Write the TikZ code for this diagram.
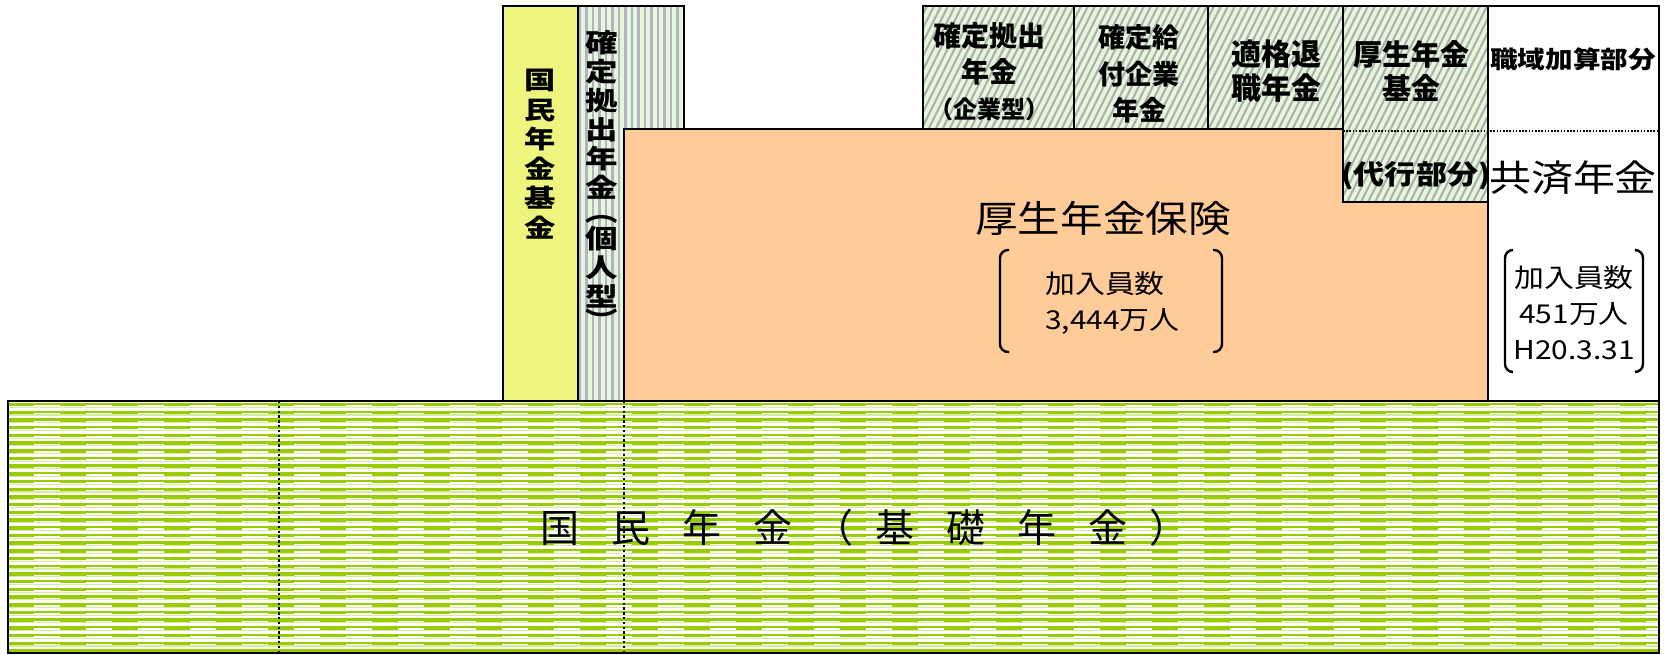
\documentclass[tikz,border=0pt]{standalone}
\usepackage{fontspec}
\newfontfamily\jpA{Noto Sans CJK JP}[FakeStretch=1.15]
\newfontfamily\jpV{Noto Sans CJK JP}[FakeStretch=1.25]
\newfontfamily\jpN{Noto Sans CJK JP}
\definecolor{kyellow}{HTML}{EEF57E}
\definecolor{korange}{HTML}{FFCC99}
\definecolor{kpale}{HTML}{E3F7DB}
\definecolor{khatch}{HTML}{ADADAD}
\definecolor{kvstripe}{HTML}{B4B2BC}
\definecolor{kgreen}{HTML}{99CC00}
\definecolor{klight}{HTML}{D6EDA0}
\begin{document}
\begin{tikzpicture}[x=1pt,y=-1pt,
  box/.style={draw=black,line width=2.6pt},
  lbl/.style={inner sep=0pt,align=center,text=black},
  hatchline/.style={draw=khatch,line width=2.0pt},
  vstripe/.style={draw=kvstripe,line width=2.3pt},
  gline/.style={draw=kgreen,line width=2.3pt},
  gline2/.style={draw=klight,line width=1.1pt},
  dotv/.style={line width=2.4pt,dash pattern=on 2.4pt off 2.4pt},
  doth/.style={line width=1.6pt,dash pattern=on 1.6pt off 1.6pt},
  brk/.style={line width=2.4pt,rounded corners=8pt}]
\useasboundingbox (0,0) rectangle (1676,655);

% ---- bottom box: national pension
\fill[white] (8,401) rectangle (1659,653);
\begin{scope}
  \clip (8,401) rectangle (1659,653);
  \foreach \k in {0,...,33} {
    \draw[gline] (8,{404+\k*7.7}) -- (1659,{404+\k*7.7});
    \draw[gline,line width=1.4pt,dash pattern=on 26pt off 26pt] (8,{405.6+\k*7.7}) -- (1659,{405.6+\k*7.7});
    \draw[gline2] (8,{407.3+\k*7.7}) -- (1659,{407.3+\k*7.7});
  }
\end{scope}
\draw[dotv] (279,401) -- (279,653);
\draw[dotv] (624,401) -- (624,653);
\draw[box] (8,401) rectangle (1659,653);

% ---- national pension fund
\draw[box,fill=kyellow] (503,6) rectangle (578,401);

% ---- DC individual
\fill[kpale] (578,6) rectangle (684,401);
\begin{scope}
  \clip (578,6) rectangle (684,401);
  \foreach \k in {0,...,17} \draw[vstripe] ({580+\k*6.5},6) -- ({580+\k*6.5},401);
\end{scope}
\draw[box] (578,6) rectangle (684,401);

% ---- top hatched boxes
\fill[kpale] (923,6) rectangle (1343,130);
\begin{scope}
  \clip (923,6) rectangle (1343,130);
  \foreach \k in {0,...,100} \draw[hatchline] ({923+\k*7-105},210) -- ({923+\k*7},0);
\end{scope}
\draw[box] (923,6) rectangle (1074,130);
\draw[box] (1074,6) rectangle (1208,130);
\draw[box] (1208,6) rectangle (1343,130);

% ---- employees' pension insurance
\draw[box,fill=korange] (624,129) rectangle (1488,401);

% ---- employees' pension fund
\fill[kpale] (1343,6) rectangle (1488,202);
\begin{scope}
  \clip (1343,6) rectangle (1488,202);
  \foreach \k in {0,...,100} \draw[hatchline] ({923+\k*7-105},210) -- ({923+\k*7},0);
\end{scope}
\draw[box] (1343,6) rectangle (1488,202);

% ---- mutual aid
\draw[box,fill=white] (1488,6) rectangle (1659,401);
\draw[doth] (1343,131) -- (1659,131);

% ---- brackets
\draw[brk] (1009,250) -- (1000,250) -- (1000,352) -- (1009,352);
\draw[brk] (1213,250) -- (1222,250) -- (1222,352) -- (1213,352);
\draw[brk] (1513,250) -- (1505,250) -- (1505,372) -- (1513,372);
\draw[brk] (1635,250) -- (1643,250) -- (1643,372) -- (1635,372);

% ---- labels
\node[lbl,anchor=north,font=\jpV\bfseries\fontsize{25}{29.5}\selectfont] (kkfund) at (540.5,69)
  {国\\民\\年\\金\\基\\金};
\node[lbl,anchor=north,font=\jpV\bfseries\fontsize{26}{29}\selectfont] (dcind) at (601.5,30)
  {確\\定\\拠\\出\\年\\金\\[-5pt]︵\\[-2pt]個\\人\\型\\[-5pt]︶};
\node[lbl,font=\jpN\bfseries\fontsize{28}{36}\selectfont] (dccorp) at (989,72)
  {確定拠出\\年金\\{\fontsize{24}{36}\selectfont （企業型）}};
\node[lbl,font=\jpN\bfseries\fontsize{27}{36.5}\selectfont] (db) at (1139,74)
  {確定給\\付企業\\年金};
\node[lbl,font=\jpN\bfseries\fontsize{30}{34}\selectfont] (tq) at (1276,71)
  {適格退\\職年金};
\node[lbl,font=\jpN\bfseries\fontsize{29}{34}\selectfont] (epf) at (1411,71)
  {厚生年金\\基金};
\node[lbl,font=\jpA\bfseries\fontsize{24}{30}\selectfont] (shokuiki) at (1573,59)
  {職域加算部分};
\node[lbl,font=\jpA\bfseries\fontsize{27}{30}\selectfont] (daiko) at (1416,176)
  {(代行部分)};
\node[lbl,font=\jpA\fontsize{37}{40}\selectfont] (epi) at (1103,218)
  {厚生年金保険};
\node[lbl,align=left,anchor=west,font=\jpA\fontsize{26}{36}\selectfont] (epimem) at (1045,303)
  {加入員数\\3,444万人};
\node[lbl,font=\jpA\fontsize{36.5}{40}\selectfont] (kyosai) at (1573,178)
  {共済年金};
\node[lbl,font=\jpA\fontsize{26}{36}\selectfont] (kyomem) at (1574,313)
  {加入員数\\451万人\\H20.3.31};
\node[lbl,anchor=west,font=\jpN\fontsize{39}{42}\selectfont] (kiso) at (524.5,528)
  {\makebox[71pt]{国}\makebox[71pt]{民}\makebox[71pt]{年}\makebox[71pt]{金}\makebox[51pt]{（}\makebox[71pt]{基}\makebox[71pt]{礎}\makebox[71pt]{年}\makebox[71pt]{金}\makebox[51pt]{）}};
\end{tikzpicture}
\end{document}
